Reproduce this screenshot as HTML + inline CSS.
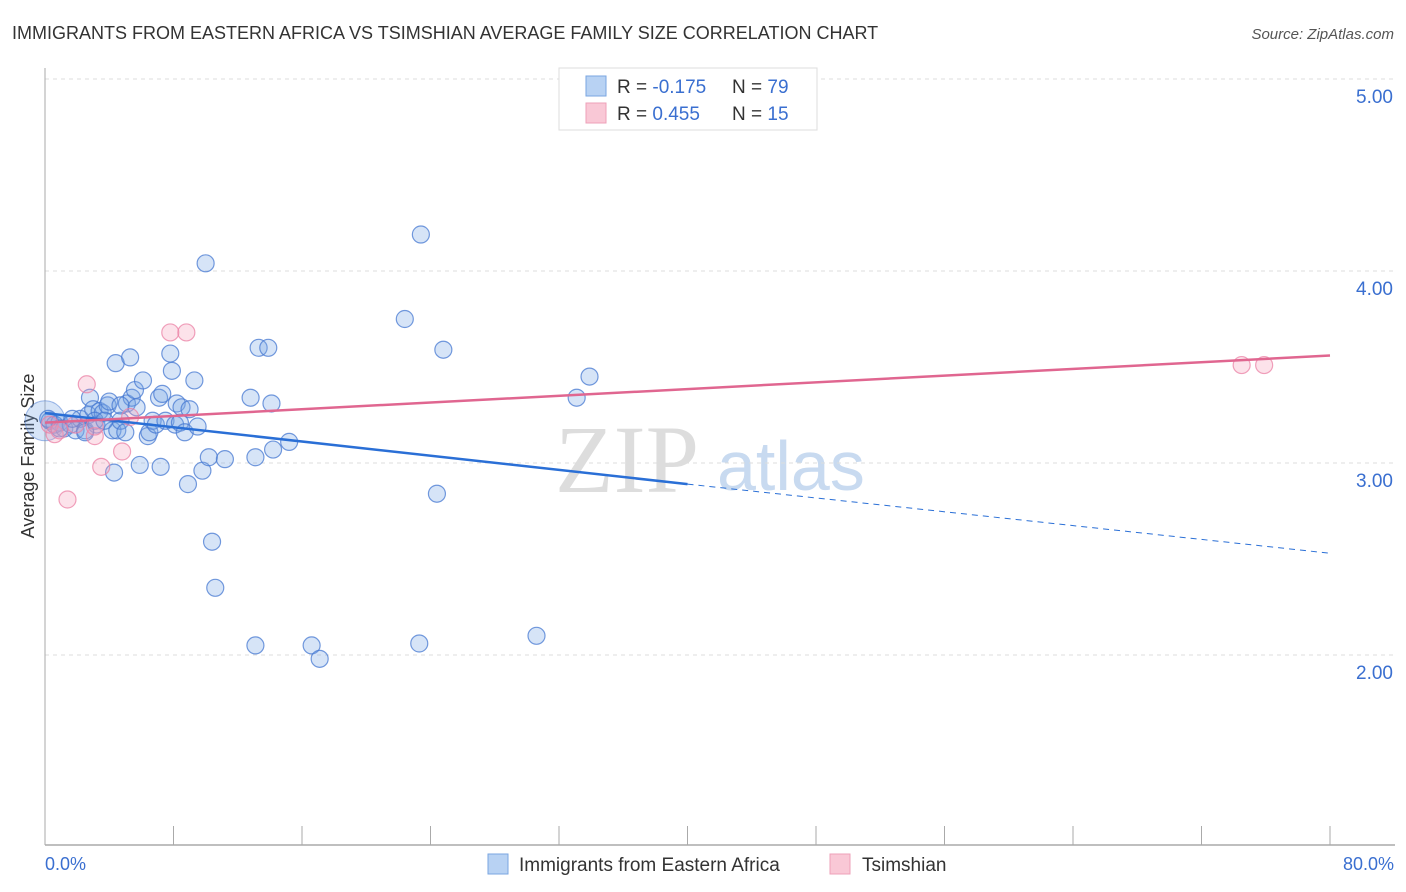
<!DOCTYPE html>
<html><head><meta charset="utf-8">
<style>
body{margin:0;background:#fff;font-family:"Liberation Sans",sans-serif;}
#wrap{position:relative;width:1406px;height:892px;overflow:hidden;}
</style></head>
<body>
<div id="wrap">
<svg id="svg" width="1406" height="892" xmlns="http://www.w3.org/2000/svg">
<text x="12" y="39" font-size="18" fill="#333">IMMIGRANTS FROM EASTERN AFRICA VS TSIMSHIAN AVERAGE FAMILY SIZE CORRELATION CHART</text>
<text x="1394" y="39" font-size="15" fill="#555" font-style="italic" text-anchor="end">Source: ZipAtlas.com</text>
<text x="34" y="456" font-size="18" fill="#333" text-anchor="middle" transform="rotate(-90 34 456)">Average Family Size</text>
<text x="555" y="492" font-size="96" fill="#ddd" font-family="Liberation Serif,serif">ZIP</text>
<text x="717" y="490" font-size="70" fill="#c8daf0">atlas</text>
<g id="grid"></g><g id="pts"></g><g id="lines"></g>
<g>
<rect x="559" y="68" width="258" height="62" fill="#fff" stroke="#ddd"/>
<rect x="586" y="76" width="20" height="20" fill="#b8d2f3" stroke="#7aa6e0"/>
<rect x="586" y="103" width="20" height="20" fill="#f9c8d6" stroke="#eea0b8"/>
<text x="617" y="93" font-size="19" fill="#333">R = <tspan fill="#3a6fd0">-0.175</tspan><tspan x="732">N = </tspan><tspan fill="#3a6fd0">79</tspan></text>
<text x="617" y="120" font-size="19" fill="#333">R = <tspan fill="#3a6fd0"> 0.455</tspan><tspan x="732">N = </tspan><tspan fill="#3a6fd0"> 15</tspan></text>
</g>
<text x="45" y="870" font-size="18" fill="#3a6fd0">0.0%</text>
<text x="1394" y="870" font-size="18" fill="#3a6fd0" text-anchor="end">80.0%</text>
<g>
<rect x="488" y="854" width="20" height="20" fill="#b8d2f3" stroke="#7aa6e0"/>
<text x="519" y="871" font-size="19" fill="#333">Immigrants from Eastern Africa</text>
<rect x="830" y="854" width="20" height="20" fill="#f9c8d6" stroke="#eea0b8"/>
<text x="862" y="871" font-size="19" fill="#333">Tsimshian</text>
</g>
</svg>
</div>
<script>
const yTicks=[2,3,4,5];
const yTickLabels=["2.00","3.00","4.00","5.00"];
const xTicks=[0,8,16,24,32,40,48,56,64,72,80];
const blueX=[0.3,0.6,0.9,1.2,1.6,1.9,2.2,2.5,2.7,2.8,3.0,3.2,3.4,3.6,3.9,4.0,4.2,4.4,4.5,4.7,5.0,5.1,5.3,5.4,5.6,5.7,5.9,6.1,6.4,6.5,6.7,6.9,7.1,7.2,7.3,7.5,7.8,7.9,8.1,8.2,8.4,8.5,8.7,8.9,9.3,9.5,9.8,10.0,10.2,10.4,10.6,11.2,12.8,13.1,13.1,13.3,13.9,14.1,14.2,15.2,16.6,17.1,22.4,23.3,23.4,24.4,24.8,30.6,33.1,33.9,4.3,2.5,0.9,1.7,3.1,3.7,0.2,4.7,9.0];
const blueY=[3.22,3.20,3.21,3.18,3.20,3.17,3.23,3.17,3.25,3.34,3.28,3.20,3.27,3.26,3.30,3.32,3.17,3.52,3.17,3.22,3.16,3.31,3.55,3.34,3.38,3.29,2.99,3.43,3.14,3.16,3.22,3.20,3.34,2.98,3.36,3.22,3.57,3.48,3.20,3.31,3.21,3.29,3.16,2.89,3.43,3.19,2.96,4.04,3.03,2.59,2.35,3.02,3.34,2.05,3.03,3.60,3.60,3.31,3.07,3.11,2.05,1.98,3.75,2.06,4.19,2.84,3.59,2.10,3.34,3.45,2.95,3.16,3.18,3.23,3.22,3.22,3.23,3.30,3.28];
const pinkX=[0.6,1.4,2.6,3.1,3.5,4.8,5.3,7.8,8.8,74.5,75.9,0.3,1.9,0.9,3.1];
const pinkY=[3.15,2.81,3.41,3.14,2.98,3.06,3.24,3.68,3.68,3.51,3.51,3.20,3.20,3.17,3.19];
const blueFit=[[0,3.26],[40,2.89],[80,2.53]];
const pinkFit=[[0,3.21],[80,3.56]];
const NS="http://www.w3.org/2000/svg";
const X=v=>45+v/80*1285, Y=v=>79+(5-v)*192;
function mk(t,a,p){const e=document.createElementNS(NS,t);for(const k in a)e.setAttribute(k,a[k]);p.appendChild(e);return e;}
const grid=document.getElementById('grid');
yTicks.forEach((t,i)=>{
 const l=mk('line',{x1:45,x2:1395,y1:Y(t),y2:Y(t),stroke:'#ddd','stroke-dasharray':'4,4'},grid);
 
 
 const tx=mk('text',{x:1393,y:Y(t)+24,'font-size':19,fill:'#3a6fd0','text-anchor':'end'},grid);
 tx.textContent=yTickLabels[i];
 
 
});
const ax=mk('line',{x1:45,x2:1395,y1:845,y2:845,stroke:'#aaa','stroke-width':1.5},grid);


const ay=mk('line',{x1:45,x2:45,y1:68,y2:845,stroke:'#aaa'},grid);


xTicks.forEach(t=>{
 const l=mk('line',{x1:X(t),x2:X(t),y1:826,y2:845,stroke:'#aaa'},grid);
 
 
});
const pts=document.getElementById('pts');
const big=mk('circle',{cx:X(0),cy:Y(3.22),r:20,fill:'rgba(120,165,230,0.3)',stroke:'rgba(70,120,210,0.5)'},pts);


blueX.forEach((x,i)=>{
 const c=mk('circle',{cx:X(x),cy:Y(blueY[i]),r:8.5,fill:'rgba(120,165,230,0.3)',stroke:'rgba(70,120,210,0.75)','stroke-width':1.2},pts);
 
 
});
pinkX.forEach((x,i)=>{
 const c=mk('circle',{cx:X(x),cy:Y(pinkY[i]),r:8.5,fill:'rgba(245,160,185,0.3)',stroke:'rgba(235,130,165,0.75)','stroke-width':1.2},pts);
 
 
});
const lines=document.getElementById('lines');
const b1=mk('line',{x1:X(blueFit[0][0]),y1:Y(blueFit[0][1]),x2:X(blueFit[1][0]),y2:Y(blueFit[1][1]),stroke:'#2a6fd6','stroke-width':2.5},lines);


const b2=mk('line',{x1:X(blueFit[1][0]),y1:Y(blueFit[1][1]),x2:X(blueFit[2][0]),y2:Y(blueFit[2][1]),stroke:'#2a6fd6','stroke-width':1,'stroke-dasharray':'6,5'},lines);


const p1=mk('line',{x1:X(pinkFit[0][0]),y1:Y(pinkFit[0][1]),x2:X(pinkFit[1][0]),y2:Y(pinkFit[1][1]),stroke:'#e06690','stroke-width':2.5},lines);


</script>
</body></html>
